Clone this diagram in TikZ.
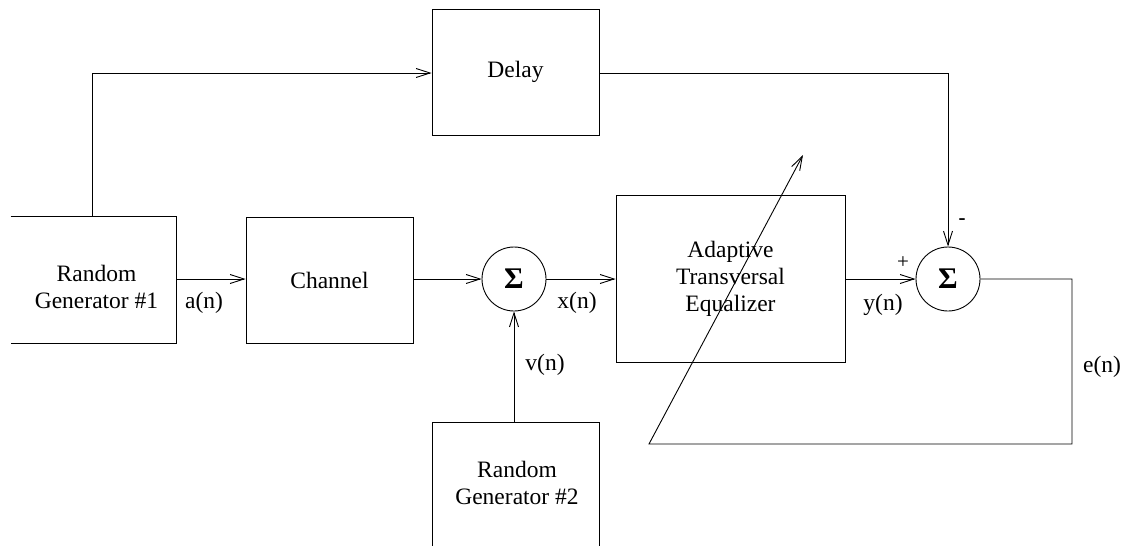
\documentclass[tikz,border=0pt]{standalone}
\usepackage{fontspec}
\setmainfont{Liberation Serif}
\newfontfamily\tms{Liberation Serif}
\usetikzlibrary{arrows.meta,calc}
\begin{document}
\begin{tikzpicture}[x=1pt,y=-1pt,line width=0.9pt,
  box/.style={draw,inner sep=0pt,font=\tms\fontsize{23.5}{27}\selectfont,align=center},
  txt/.style={inner sep=0pt,font=\tms\fontsize{23.5}{27}\selectfont,align=center},
  small/.style={inner sep=0pt,font=\tms\fontsize{21}{22}\selectfont},
  sumnode/.style={draw,circle,minimum size=64pt,inner sep=0pt,font=\tms\fontsize{30}{30}\selectfont},
  arr/.style={-{Straight Barb[length=14pt,width=9pt,line width=0.9pt]}}]
\clip (0,0) rectangle (1125,546);
\fill[white] (0,0) rectangle (1125,546);
% blocks
\node[inner sep=0pt,minimum width=165pt,minimum height=126pt] (rg1) at (93.5,280) {};
\draw (rg1.north west) -- (rg1.north east) -- (rg1.south east) -- (rg1.south west);
\node[txt] (rg1t) at ($(rg1.center)+(3,7)$) {Random\\Generator \#1};
\node[box,minimum width=167pt,minimum height=126pt] (ch) at (329.5,280) {Channel};
\node[sumnode] (s1) at (514,279) {\textbf{Σ}};
\node[box,minimum width=229pt,minimum height=167pt] (eq) at (730.5,278.5) {Adaptive\\Transversal\\Equalizer};
\node[sumnode] (s2) at (948,279) {\textbf{Σ}};
\node[box,minimum width=167pt,minimum height=126pt] (dl) at (515.5,72) {Delay};
\node[box,minimum width=167pt,minimum height=170pt] (rg2) at (515.5,507) {};
\node[txt] (rg2t) at ($(rg2.north)+(1.5,61)$) {Random\\Generator \#2};
% connectors
\coordinate (c1) at (92,73);
\coordinate (e1) at (1072,444);
\coordinate (e2) at (649,444);
\coordinate (tip) at (803,155);
\draw[arr] (rg1.east |- 0,279) -- (ch.west |- 0,279);
\draw[arr] (ch.east |- s1.west) -- (s1.west);
\draw[arr] (s1.east) -- (s1.east -| eq.west);
\draw[arr] (s1.south |- rg2.north) -- (s1.south);
\draw[arr] (eq.east |- s2.west) -- (s2.west);
\draw[arr] (rg1.north -| c1) -- (c1) -- (c1 -| dl.west);
\draw[arr] (dl.east |- c1) -- (c1 -| s2.north) -- (s2.north);
\draw[arr] (s2.east) -- (s2.east -| e1) -- (e1) -- (e2) -- (tip);
% labels
\node[txt] (la) at (204,303) {a(n)};
\node[txt] (lx) at (577,303) {x(n)};
\node[txt] (ly) at (883,305) {y(n)};
\node[txt] (lv) at (545,365) {v(n)};
\node[txt] (le) at (1102,367) {e(n)};
\node[small] (lp) at (903,263) {+};
\node[small,font=\tms\bfseries\fontsize{21}{22}\selectfont] (lm) at (962,222) {-};
\end{tikzpicture}
\end{document}
